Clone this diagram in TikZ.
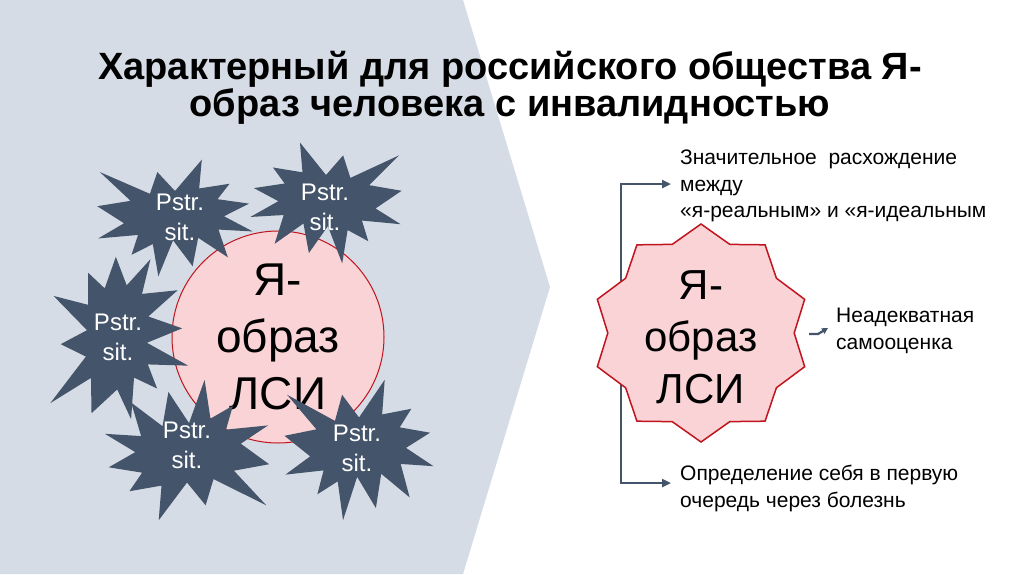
\documentclass[tikz,border=0pt]{standalone}
\usepackage{fontspec}
\setmainfont{Liberation Sans}
\usetikzlibrary{arrows.meta,positioning,shapes.geometric}
\definecolor{slate}{HTML}{44546A}
\definecolor{panel}{HTML}{D6DCE5}
\definecolor{rose}{HTML}{F9D3D5}
\definecolor{crimson}{HTML}{C0141E}
% explosion outline, centred on the origin, 21.6 units across
\newcommand{\burstpath}{(0,-5) -- (3.722,-10.8) -- (3.355,-5.475) -- (7.58,-6.343) -- (5.902,-3.485) -- (10.297,-2.663) -- (6.807,-0.325) -- (10.8,2.49) -- (6.037,2.142) -- (7.345,7.295) -- (3.22,3.657) -- (2.447,8.937) -- (-0.268,4.135) -- (-2.315,10.8) -- (-3.085,4.827) -- (-6.038,6.817) -- (-5.133,3.137) -- (-10.665,3.787) -- (-7.078,0.975) -- (-10.8,-2.185) -- (-6.173,-3.183) -- (-10.43,-8.505) -- (-3.488,-4.48) -- (-2.448,-8.505) -- cycle}

\begin{document}
\begin{tikzpicture}[
  x=1pt,y=-1pt,
  title/.style={font=\bfseries\fontsize{38}{37}\selectfont,align=center,inner sep=0pt},
  burst/.style={fill=slate},
  pstr/.style={text=white,font=\fontsize{24}{30}\selectfont,align=center,inner sep=0pt},
  core/.style={circle,draw=crimson,line width=1pt,fill=rose,minimum size=212pt,inner sep=0pt,
               align=center,font=\fontsize{46}{57}\selectfont},
  seal/.style={star,star points=10,star point ratio=1.17,draw=crimson,line width=1.5pt,
               fill=rose,minimum size=218pt,inner sep=0pt},
  seallbl/.style={align=center,font=\fontsize{42}{52}\selectfont,inner sep=0pt},
  note/.style={font=\fontsize{21}{26.5}\selectfont,align=left,anchor=north west,inner sep=0pt},
  arr/.style={-{Triangle[length=9pt,width=8pt]},line width=2.6pt,slate}
]
\fill[white] (0,0) rectangle (1024,574);
\useasboundingbox (0,0) rectangle (1024,574);
\fill[panel] (0,0) -- (463,0) -- (550,287) -- (463,574) -- (0,574) -- cycle;

\node[title] (head) at (510,88) {Характерный для российского общества Я-\\образ человека с инвалидностью};

% left: self-image under stress
\node[core] (self) at (278,337) {Я-\\образ\\ЛСИ};
\fill[burst,shift={(175,218)},xscale=7.2,yscale=5.4] \burstpath;
\node[pstr] (p1) at (180,217) {Pstr.\\sit.};
\fill[burst,shift={(326,203)},xscale=-7.0,yscale=5.6] \burstpath;
\node[pstr] (p2) at (325,207) {Pstr.\\sit.};
\fill[burst,shift={(120,336)},rotate=80,xscale=7.5,yscale=6.7] \burstpath;
\node[pstr] (p3) at (118,337) {Pstr.\\sit.};
\fill[burst,shift={(187,450)},rotate=180,xscale=7.6,yscale=6.5] \burstpath;
\node[pstr] (p4) at (187,445) {Pstr.\\sit.};
\fill[burst,shift={(359,450)},xscale=6.9,yscale=6.5] \burstpath;
\node[pstr] (p5) at (357,448) {Pstr.\\sit.};

% right: consequences
\node[note] (gap) at (680,150) {Значительное~ расхождение\\между\\«я-реальным» и «я-идеальным};
\node[note] (esteem) at (836,308) {Неадекватная\\самооценка};
\node[note] (illness) at (680,465) {Определение себя в первую\\очередь через болезнь};

\coordinate (brtop) at (621,184);
\coordinate (brbot) at (621,483);
\coordinate (brmid) at (621,333);
\draw[arr,shorten >=9pt] (brmid) |- (gap.west |- brtop);
\draw[arr,shorten >=9pt] (brmid) |- (illness.west |- brbot);

\node[seal] (lsi) at (701,333) {};
\node[seallbl] (lsilbl) at (701,337) {Я-\\образ\\ЛСИ};

\coordinate (sa) at (809,334);
\coordinate (sb) at (828,328);
\draw[arr,-{Triangle[length=6pt,width=6pt]},line width=2.2pt] (sa) -- ++(9,0) -- (sb);
\end{tikzpicture}
\end{document}
